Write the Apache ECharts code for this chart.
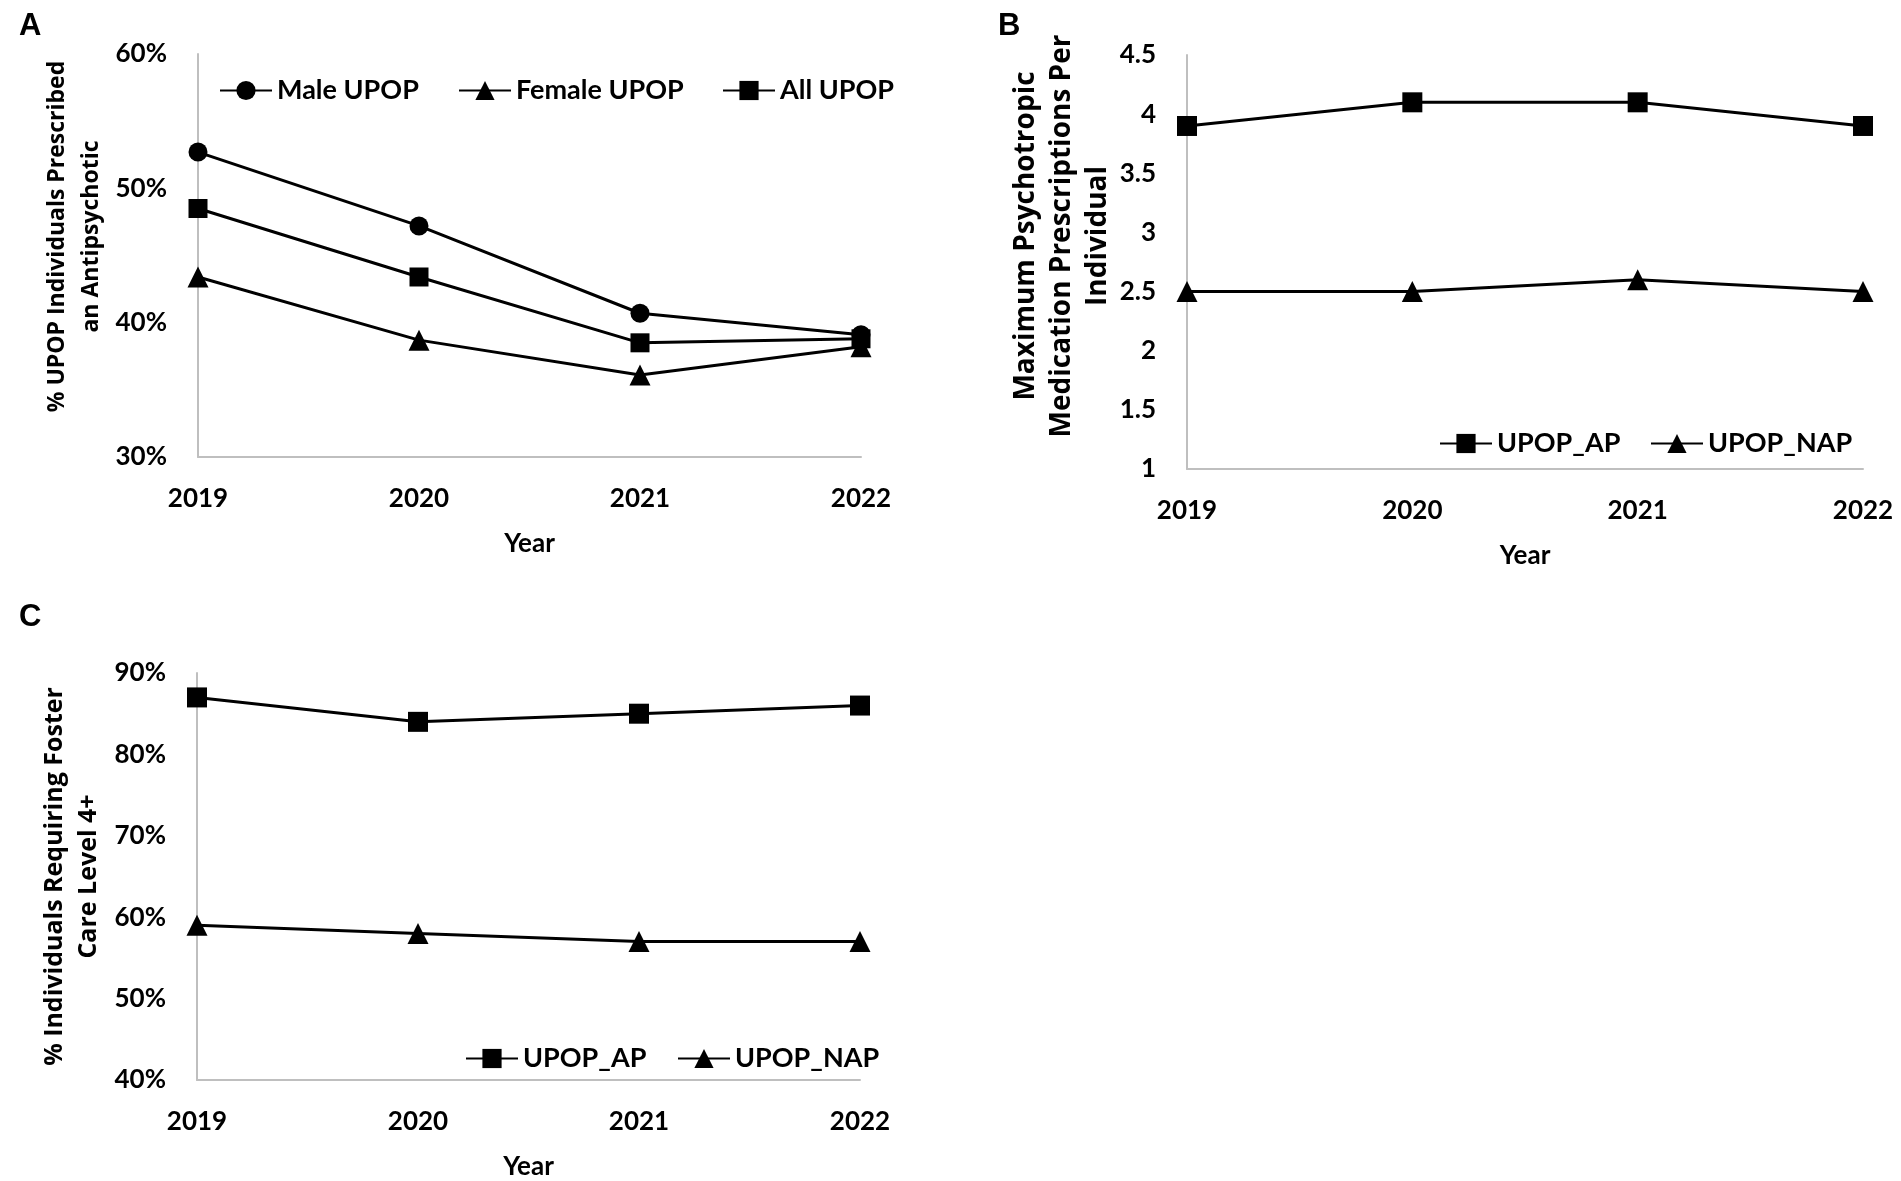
<!DOCTYPE html>
<html>
<head>
<meta charset="utf-8">
<script src="https://cdn.jsdelivr.net/npm/echarts@6/dist/echarts.min.js"></script>
<style>
  html, body { margin: 0; padding: 0; background: #fff; }
  #main { width: 1901px; height: 1181px; }
</style>
</head>
<body>
<div id="main"></div>
<script>
var years = ['2019', '2020', '2021', '2022'];

// panel A: % UPOP prescribed an antipsychotic
var maleUpop = [52.7, 47.2, 40.7, 39.1];
var femaleUpop = [43.4, 38.7, 36.1, 38.2];
var allUpop = [48.5, 43.4, 38.5, 38.8];

// panel B: max psychotropic prescriptions per individual
var maxRxAP = [3.9, 4.1, 4.1, 3.9];
var maxRxNAP = [2.5, 2.5, 2.6, 2.5];

// panel C: % requiring foster care level 4+
var fosterAP = [87, 84, 85, 86];
var fosterNAP = [59, 58, 57, 57];

var chartDom = document.getElementById('main');
var myChart = echarts.init(chartDom);

var tickFont = 'Lato';
var titleFont = '"Open Sans"';
var axisGray = '#bfbfbf';

function xAxisFor(idx) {
	return {
		type: 'category',
		gridIndex: idx,
		data: years,
		boundaryGap: false,
		name: 'Year',
		nameLocation: 'middle',
		nameGap: 74,
		nameTextStyle: { fontFamily: tickFont, fontWeight: 'bold', fontSize: 26, color: '#000' },
		axisLine: { lineStyle: { color: axisGray, width: 2 } },
		axisTick: { show: false },
		axisLabel: { margin: 29, fontFamily: tickFont, fontWeight: 'bold', fontSize: 26, color: '#000' },
		splitLine: { show: false }
	};
}

function yAxisFor(idx, opts) {
	return {
		type: 'value',
		gridIndex: idx,
		min: opts.min,
		max: opts.max,
		interval: opts.interval,
		name: opts.name,
		nameLocation: 'middle',
		nameRotate: 90,
		nameGap: opts.nameGap,
		nameTextStyle: {
			fontFamily: titleFont, fontWeight: 'bold', fontSize: opts.nameSize,
			lineHeight: opts.lineHeight, color: '#000', padding: [0, 0, 0, opts.shift]
		},
		axisLine: { show: true, lineStyle: { color: axisGray, width: 2 } },
		axisTick: { show: false },
		axisLabel: {
			margin: 31, fontFamily: tickFont, fontWeight: 'bold', fontSize: 26, color: '#000',
			formatter: opts.formatter
		},
		splitLine: { show: false }
	};
}

function lineSeries(name, idx, data, symbol, size) {
	return {
		name: name,
		type: 'line',
		xAxisIndex: idx,
		yAxisIndex: idx,
		data: data,
		symbol: symbol,
		symbolSize: size,
		showAllSymbol: true,
		lineStyle: { color: '#000', width: 3 },
		itemStyle: { color: '#000' }
	};
}

function legendAt(name, left, centerY) {
	return {
		data: [name],
		left: left,
		top: centerY - 12,
		padding: 0,
		itemWidth: 52,
		itemHeight: 24,
		selectedMode: false,
		textStyle: { fontFamily: tickFont, fontWeight: 'bold', fontSize: 27, color: '#000' }
	};
}

var letterStyle = { fontFamily: '"Liberation Sans"', fontWeight: 'bold', fontSize: 31, color: '#000' };

var option = {
	animation: false,
	backgroundColor: '#fff',
	title: [
		{ text: 'A', left: 19, top: 11, padding: 0, textStyle: letterStyle },
		{ text: 'B', left: 998, top: 11, padding: 0, textStyle: letterStyle },
		{ text: 'C', left: 19, top: 602, padding: 0, textStyle: letterStyle }
	],
	legend: [
		legendAt('Male UPOP', 219, 89),
		legendAt('Female UPOP', 458, 89),
		legendAt('All UPOP', 722, 89),
		legendAt('UPOP_AP', 1439, 442),
		legendAt('UPOP_NAP', 1650, 442),
		legendAt('UPOP_AP', 465, 1057),
		legendAt('UPOP_NAP', 677, 1057)
	],
	grid: [
		{ left: 198, top: 54, width: 663, height: 403 },
		{ left: 1187, top: 55, width: 676, height: 414 },
		{ left: 197, top: 673, width: 663, height: 407 }
	],
	xAxis: [xAxisFor(0), xAxisFor(1), xAxisFor(2)],
	yAxis: [
		yAxisFor(0, {
			min: 30, max: 60, interval: 10,
			name: '% UPOP Individuals Prescribed\nan Antipsychotic',
			nameGap: 90, nameSize: 23, lineHeight: 34, shift: 38,
			formatter: '{value}%'
		}),
		yAxisFor(1, {
			min: 1, max: 4.5, interval: 0.5,
			name: 'Maximum Psychotropic\nMedication Prescriptions Per\nIndividual',
			nameGap: 53, nameSize: 28, lineHeight: 36, shift: 52,
			formatter: '{value}'
		}),
		yAxisFor(2, {
			min: 40, max: 90, interval: 10,
			name: '% Individuals Requiring Foster\nCare Level 4+',
			nameGap: 91, nameSize: 25, lineHeight: 34, shift: 0,
			formatter: '{value}%'
		})
	],
	series: [
		lineSeries('Male UPOP', 0, maleUpop, 'circle', 19),
		lineSeries('Female UPOP', 0, femaleUpop, 'triangle', 21),
		lineSeries('All UPOP', 0, allUpop, 'rect', 19),
		lineSeries('UPOP_AP', 1, maxRxAP, 'rect', 20),
		lineSeries('UPOP_NAP', 1, maxRxNAP, 'triangle', 21),
		lineSeries('UPOP_AP', 2, fosterAP, 'rect', 20),
		lineSeries('UPOP_NAP', 2, fosterNAP, 'triangle', 21)
	]
};

myChart.setOption(option);
</script>
</body>
</html>
